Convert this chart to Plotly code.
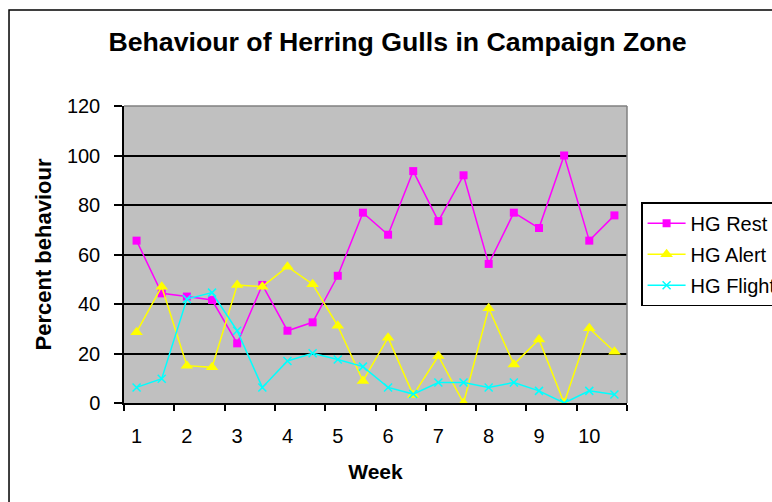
import plotly.graph_objects as go

# Two observations per week, 20 in total
obs = list(range(20))
week_ticks = [0, 2, 4, 6, 8, 10, 12, 14, 16, 18]
week_labels = ['1', '2', '3', '4', '5', '6', '7', '8', '9', '10']

hg_rest = [65.6, 44.3, 43, 41.6, 24.1, 47.7, 29.2, 32.6, 51.4, 76.9,
           68, 93.7, 73.5, 92, 56.2, 76.9, 70.7, 100, 65.6, 75.8]
hg_alert = [28.6, 47, 15.1, 14.4, 47.7, 47, 55.1, 48, 31.2, 8.9,
            26.4, 3.2, 19, 0, 38.3, 15.6, 25.7, 0, 30.2, 20.7]
hg_flight = [6.3, 9.8, 42, 44.6, 29.2, 6.3, 17, 20.1, 17.6, 14.7,
             6.3, 3.6, 8.3, 8.3, 6.3, 8.3, 4.9, 0, 4.9, 3.4]

FONT = 'Arial, Liberation Sans, sans-serif'

fig = go.Figure()
fig.add_trace(go.Scatter(x = obs, y = hg_rest, name = 'HG Rest', mode = 'lines+markers',
                         legendgroup = 'rest',
                         line = {'color': '#FF00FF', 'width': 1.5},
                         marker = {'symbol': 'square', 'size': 8, 'color': '#FF00FF'}))
fig.add_trace(go.Scatter(x = obs, y = hg_alert, name = 'HG Alert', mode = 'lines+markers',
                         legendgroup = 'alert',
                         line = {'color': '#FFFF00', 'width': 1.5},
                         marker = {'symbol': 'triangle-up', 'size': 11, 'color': '#FFFF00'}))
fig.add_trace(go.Scatter(x = obs, y = hg_flight, name = 'HG Flight', mode = 'lines+markers',
                         legendgroup = 'flight',
                         line = {'color': '#00FFFF', 'width': 1.5},
                         marker = {'symbol': 'x-thin', 'size': 8,
                                   'line': {'color': '#00FFFF', 'width': 1.5}}))

fig.update_xaxes(range = [-0.5, 19.5], tickmode = 'array', tickvals = week_ticks, ticktext = week_labels,
                 ticks = '', showgrid = False, zeroline = False,
                 showline = True, linecolor = 'black', linewidth = 1.5,
                 ticklabelstandoff = 14,
                 tickfont = {'size': 20, 'color': 'black'},
                 minor = {'tickmode': 'array', 'tickvals': [-0.5 + 2 * i for i in range(11)],
                          'ticks': 'outside', 'ticklen': 6, 'tickcolor': 'black', 'tickwidth': 1.5,
                          'showgrid': False},
                 title = {'text': '<b>Week</b>', 'font': {'size': 21, 'color': 'black'}, 'standoff': 19})
fig.update_yaxes(range = [0, 120], tick0 = 0, dtick = 20,
                 ticks = 'outside', ticklen = 8, tickcolor = 'black', tickwidth = 1.5,
                 showgrid = True, gridcolor = 'black', gridwidth = 1.5, zeroline = False,
                 showline = True, linecolor = 'black', linewidth = 1.5,
                 ticklabelstandoff = 10,
                 tickfont = {'size': 20, 'color': 'black'},
                 title = {'text': '<b>Percent behaviour</b>', 'font': {'size': 22, 'color': 'black'},
                          'standoff': 9})

# Grey plot-area border (top and right), outer chart border
fig.add_shape(type = 'line', xref = 'paper', yref = 'paper', x0 = 0, x1 = 1, y0 = 1, y1 = 1,
              line = {'color': '#808080', 'width': 1.5})
fig.add_shape(type = 'line', xref = 'paper', yref = 'paper', x0 = 1, x1 = 1, y0 = 0, y1 = 1,
              line = {'color': '#808080', 'width': 1.5})
fig.add_shape(type = 'rect', xref = 'paper', yref = 'paper',
              x0 = -0.2286, x1 = 1.3, y0 = -0.37, y1 = 1.323,
              line = {'color': 'black', 'width': 1.5})

fig.update_layout(
    width = 772, height = 502,
    margin = {'l': 124, 'r': 145, 't': 106, 'b': 99, 'autoexpand': False},
    paper_bgcolor = 'white', plot_bgcolor = '#C0C0C0',
    font = {'family': FONT, 'color': 'black'},
    title = {'text': '<b>Behaviour of Herring Gulls in Campaign Zone</b>',
             'x': 0.515, 'xanchor': 'center', 'y': 1 - 42 / 502, 'yanchor': 'middle',
             'font': {'size': 26.7, 'color': 'black'}},
    legend = {'x': 1.028, 'xanchor': 'left', 'y': 0.676, 'yanchor': 'top',
              'bordercolor': 'black', 'borderwidth': 1.5, 'bgcolor': 'white',
              'tracegroupgap': 2, 'itemwidth': 38,
              'font': {'size': 20, 'color': 'black'}},
    showlegend = True,
)

fig.write_html("out.html", config = {'displayModeBar': False},
               post_script = "document.body.style.margin = '0px';")
